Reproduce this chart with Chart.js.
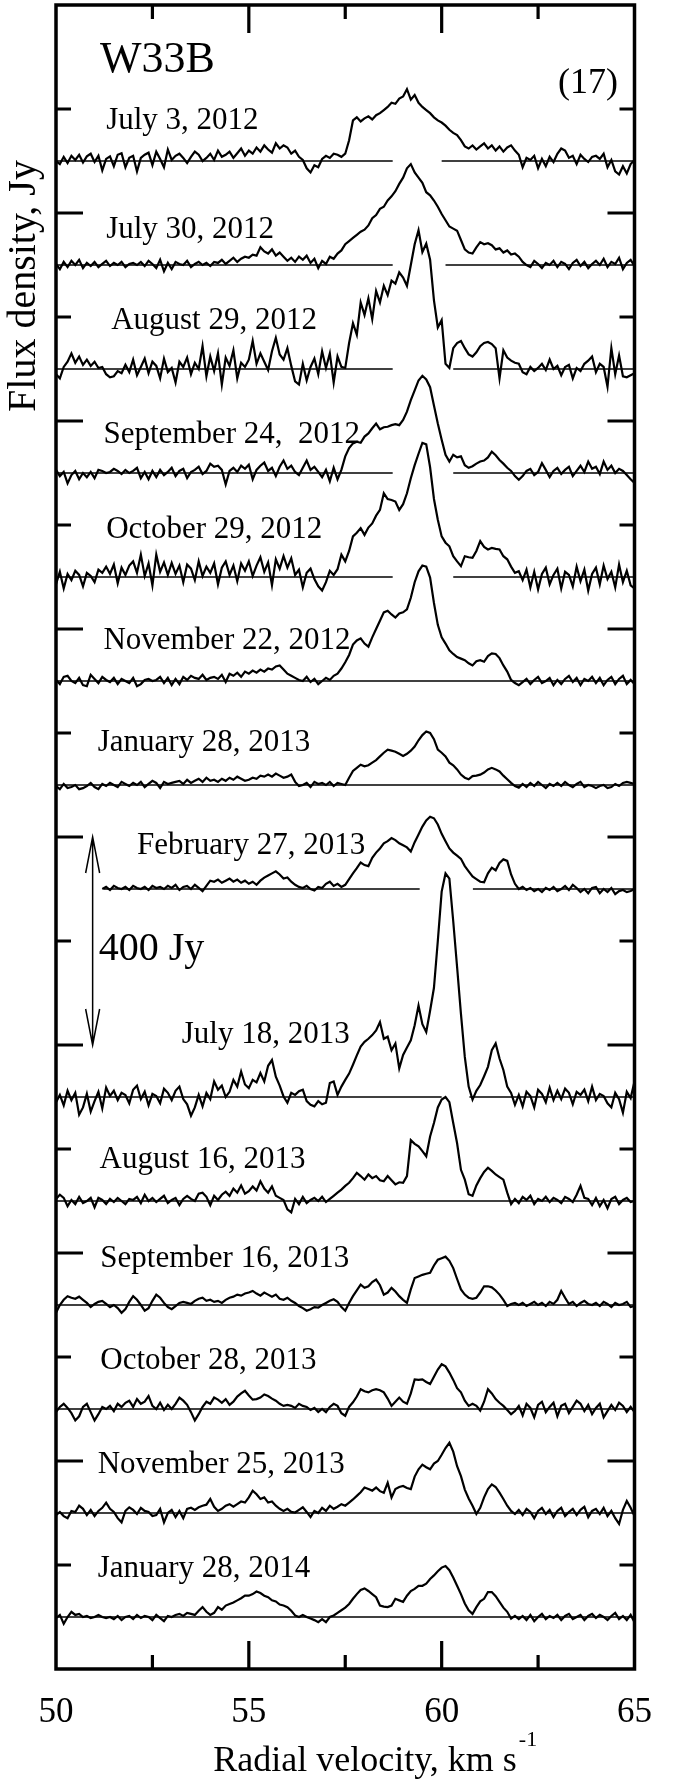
<!DOCTYPE html>
<html>
<head>
<meta charset="utf-8">
<script src="https://cdn.jsdelivr.net/npm/chart.js@4"></script>
<style>
  html, body { margin: 0; padding: 0; background: #fff; }
  #wrap { width: 675px; height: 1782px; }
</style>
</head>
<body>
<div id="wrap"><canvas id="spectraChart" width="675" height="1782"></canvas></div>
<script>
// velocity grid, km/s
const velocity = [
  50.0, 50.1, 50.2, 50.3, 50.4, 50.5, 50.6, 50.7, 50.8, 50.9,
  51.0, 51.1, 51.2, 51.3, 51.4, 51.5, 51.6, 51.7, 51.8, 51.9,
  52.0, 52.1, 52.2, 52.3, 52.4, 52.5, 52.6, 52.7, 52.8, 52.9,
  53.0, 53.1, 53.2, 53.3, 53.4, 53.5, 53.6, 53.7, 53.8, 53.9,
  54.0, 54.1, 54.2, 54.3, 54.4, 54.5, 54.6, 54.7, 54.8, 54.9,
  55.0, 55.1, 55.2, 55.3, 55.4, 55.5, 55.6, 55.7, 55.8, 55.9,
  56.0, 56.1, 56.2, 56.3, 56.4, 56.5, 56.6, 56.7, 56.8, 56.9,
  57.0, 57.1, 57.2, 57.3, 57.4, 57.5, 57.6, 57.7, 57.8, 57.9,
  58.0, 58.1, 58.2, 58.3, 58.4, 58.5, 58.6, 58.7, 58.8, 58.9,
  59.0, 59.1, 59.2, 59.3, 59.4, 59.5, 59.6, 59.7, 59.8, 59.9,
  60.0, 60.1, 60.2, 60.3, 60.4, 60.5, 60.6, 60.7, 60.8, 60.9,
  61.0, 61.1, 61.2, 61.3, 61.4, 61.5, 61.6, 61.7, 61.8, 61.9,
  62.0, 62.1, 62.2, 62.3, 62.4, 62.5, 62.6, 62.7, 62.8, 62.9,
  63.0, 63.1, 63.2, 63.3, 63.4, 63.5, 63.6, 63.7, 63.8, 63.9,
  64.0, 64.1, 64.2, 64.3, 64.4, 64.5, 64.6, 64.7, 64.8, 64.9,
  65.0
];

const dates = [
  'July 3, 2012', 'July 30, 2012', 'August 29, 2012', 'September 24,  2012',
  'October 29, 2012', 'November 22, 2012', 'January 28, 2013', 'February 27, 2013',
  'July 18, 2013', 'August 16, 2013', 'September 16, 2013', 'October 28, 2013',
  'November 25, 2013', 'January 28, 2014'
];

// offset of each spectrum on the flux axis, Jy
const baselineLevels = [2900, 2700, 2500, 2300, 2100, 1900, 1700, 1500, 1100, 900, 700, 500, 300, 100];

// drawn parts of each zero line, km/s
const baselineSpans = [
  [[50, 58.73], [60.0, 65]],
  [[50, 58.73], [60.1, 65]],
  [[50, 58.73], [60.3, 65]],
  [[50, 58.73], [60.3, 65]],
  [[50, 58.73], [60.3, 65]],
  [[50, 65]],
  [[50, 65]],
  [[51.24, 59.43], [60.81, 65]],
  [[50.05, 60.0], [60.72, 65]],
  [[50, 65]],
  [[50, 65]],
  [[50, 65]],
  [[50, 65]],
  [[50, 65]]
];

// flux density above the zero line, Jy
const fluxJul03_2012 = [
  0, -6, 8, -4, 10, 2, 12, -3, 9, 14,
  -2, 10, -18, 4, 9, -10, 12, 15, -12, 6,
  10, -20, 6, 12, 16, -8, 18, 4, -12, 22,
  2, 10, 14, 6, -4, 8, 18, 12, 0, 6,
  14, 2, 20, 8, 12, 18, 6, 15, 24, 10,
  20, 14, 26, 18, 30, 22, 16, 34, 24, 30,
  26, 14, 20, 8, 2, -14, -22, -8, -12, 4,
  10, 6, 14, 12, 8, 14, 40, 78, 84, 76,
  82, 86, 80, 88, 92, 98, 104, 112, 110, 120,
  124, 138, 118, 127, 112, 104, 98, 92, 84, 78,
  74, 68, 60, 54, 50, 40, 28, 24, 30, 22,
  28, 34, 24, 30, 20, 28, 18, 26, 30, 20,
  12, -12, 6, 2, 10, -14, 4, -10, 8, -2,
  14, 24, 20, 6, 10, -6, 12, 4, -2, 8,
  10, 4, 14, -12, 2, -20, -26, -10, -24, -6,
  2
];
const fluxJul30_2012 = [
  2, -8, 6, -4, 8, 0, 10, -6, 4, -2,
  6, -4, 2, 8, -2, 4, 0, 6, -4, 2,
  4, 0, 6, -2, 8, 2, -6, 10, -12, 4,
  -8, 6, 2, 0, 8, -4, 2, 6, 0, 4,
  -2, 6, 4, 10, 2, 8, 14, 6, 12, 16,
  14, 20, 18, 34, 26, 22, 30, 18, 24, 16,
  8, 14, 6, 16, 10, 18, 4, 12, -6, 8,
  2, 16, 12, 22, 28, 40, 46, 52, 58, 64,
  68, 76, 90, 96, 108, 112, 124, 132, 142, 156,
  168, 186, 194, 178, 168, 158, 140, 134, 124, 112,
  98, 86, 74, 70, 66, 48, 30, 24, 22, 34,
  44, 40, 42, 38, 30, 32, 24, 28, 20, 22,
  16, 6, 0, -4, 8, 2, -6, 4, 0, 8,
  -4, 6, 2, -8, 4, 10, -2, 6, -6, 2,
  8, 0, 12, -4, 6, 2, 14, -8, 4, 10,
  -2
];
const fluxAug29_2012 = [
  -10, -18, 4, 14, 30, 12, 24, 8, 18, 6,
  14, 2, 4, -10, -16, -14, -4, -8, 8, -6,
  18, -12, 4, 20, -8, 14, 6, -18, 20, -6,
  2, -26, 14, 4, 22, -10, 12, 0, 44, -14,
  24, -4, 30, -30, 22, 6, 36, -18, 12, 4,
  18, 54, 10, 30, 14, -2, 34, 60, 28, 18,
  40, 6, -24, -30, 10, -22, 4, 20, -10, 34,
  2, 30, -26, 24, 4, 2, 50, 88, 66, 128,
  104, 136, 96, 150, 128, 160, 142, 170, 164, 186,
  176, 160, 200, 240, 267, 225, 241, 210, 132, 80,
  94, 10, 2, 40, 50, 54, 40, 28, 24, 32,
  44, 50, 52, 48, 40, -18, 36, 22, 16, 12,
  10, -6, -10, 4, -4, 2, 10, -2, 18, 0,
  6, -12, 4, 8, -18, 2, -4, 10, 16, 24,
  -6, 10, 4, -34, 40, -10, 26, -14, -16, -12,
  -8
];
const fluxSep24_2012 = [
  6, -6, 2, -20, -4, 4, -12, 0, -8, 2,
  -10, 6, 4, 0, 2, 8, 4, -2, 6, 0,
  4, 10, -10, 2, -12, 4, -8, 6, -4, 2,
  10, -6, 4, 8, -10, 2, 6, 12, -2, 4,
  18, 12, 14, 6, -22, 4, 10, 2, 14, 8,
  16, -12, 6, 14, 20, 4, 10, -6, 12, 24,
  8, 14, 2, -4, 10, 24, 6, 12, 2, -8,
  6, -16, 10, -12, 6, 32, 48, 57, 60, 58,
  70, 76, 86, 95, 84, 88, 89, 92, 94, 92,
  102, 118, 140, 159, 178, 187, 180, 165, 130, 95,
  64, 35, 22, 35, 30, 32, 15, 10, 13, 18,
  22, 24, 30, 41, 34, 25, 18, 10, 4, -6,
  -13, -6, 4, 8, -4, 2, 19, 6, -8, 4,
  10, -2, 6, 12, -6, 4, 14, 2, 22, 8,
  12, -2, 22, 6, 14, 0, 8, 4, -4, -12,
  -19
];
const fluxOct29_2012 = [
  -14, 10, -22, 6, -6, 12, 4, -18, 8, 2,
  -10, 14, 8, 20, 6, 24, -12, 18, 4, 22,
  30, 8, 43, 2, 26, -16, 43, 10, 28, 4,
  27, 6, 22, -10, 24, 16, -6, 30, 2, 20,
  8, 26, -14, 18, 30, 4, 22, -8, 26, 12,
  30, 2, 22, 38, 10, 28, -16, 34, 16, 40,
  18, 36, 4, 14, -20, 8, 16, -4, -18, -26,
  -10, 12, 4, 15, 43, 30, 50, 78, 85, 94,
  81, 95, 103, 118, 129, 161, 150, 148, 145, 129,
  140, 161, 190, 215, 237, 258, 255, 211, 150, 110,
  78, 66, 59, 40, 30, 21, 40, 38, 37, 50,
  69, 58, 53, 56, 54, 53, 40, 34, 20, 8,
  11, -6, 14, -20, 10, -24, 6, 18, -14, 4,
  16, -22, 10, 4, -18, 20, -8, 14, -26, 6,
  18, -14, 22, -4, 10, -20, 24, -10, 12, -16,
  -22
];
const fluxNov22_2012 = [
  2, -6, 8, 10, 0, -4, 6, -8, -10, 12,
  4, -4, 8, 2, -2, 6, -6, 4, 0, -4,
  6, -10, -6, 2, 4, 0, 2, 8, -4, 6,
  -8, 4, -6, 8, 2, 10, 6, 4, 12, 2,
  6, 8, 4, 12, -2, 14, 10, 16, 8, 18,
  14, 20, 16, 22, 18, 24, 22, 28, 30, 22,
  14, 10, 6, 2, 0, 8, -2, 4, -6, 0,
  6, 2, 10, 14, 24, 36, 50, 70, 78, 82,
  72, 66, 84, 100, 116, 132, 135, 128, 122, 130,
  132, 138, 160, 190, 211, 222, 220, 199, 150, 108,
  84, 72, 59, 52, 46, 43, 40, 34, 30, 38,
  40, 37, 48, 53, 52, 44, 30, 18, 2, -4,
  -8, -2, 4, -6, 2, 8, -4, 0, 6, -8,
  2, -6, 4, 10, -2, 6, -8, 4, 0, 8,
  -4, 6, -8, 2, 8, -6, 4, 10, -6, 2,
  -6
];
const fluxJan28_2013 = [
  -2, -8, 2, -6, -4, 0, -8, -6, -2, 4,
  -4, -8, 2, -2, 4, 0, -4, 6, 2, -2,
  4, 0, 6, -4, 2, 8, 4, -6, 6, 2,
  4, 6, 8, 2, 10, 4, 8, 12, 6, 14,
  8, 10, 6, 12, 8, 14, 10, 16, 12, 8,
  10, 14, 12, 18, 16, 20, 16, 22, 18, 14,
  16, 20, 6, -2, 0, 4, -4, 6, 2, 4,
  0, 6, -2, 4, 2, 0, 14, 27, 33, 39,
  36, 38, 43, 48, 55, 62, 68, 66, 64, 60,
  56, 60, 66, 74, 86, 96, 103, 100, 88, 68,
  62, 55, 43, 38, 30, 20, 14, 11, 17, 18,
  20, 24, 30, 33, 30, 26, 18, 11, 4, -2,
  -5, 2, -4, 4, -2, 6, 0, -6, 2, -2,
  4, -2, 6, 0, -4, 2, 6, -4, 0, -2,
  -6, -2, 0, -6, -4, 2, -2, 4, 6, 4,
  2
];
const fluxFeb27_2013 = [
  null, null, null, null, null, null, null, null, null, null,
  null, null, 0, 4, -2, 6, 2, 0, 4, -2,
  6, 2, 0, 4, -2, 6, 2, 4, 0, 6,
  2, 8, -2, 4, 6, 0, 8, 2, -4, 6,
  16, 14, 18, 12, 16, 20, 14, 18, 12, 16,
  10, 14, 8, 16, 22, 26, 30, 34, 28, 20,
  22, 14, 8, 4, 2, 6, 0, -3, 4, 2,
  10, 14, 6, 10, 4, 8, 19, 30, 40, 51,
  46, 44, 60, 70, 78, 88, 92, 98, 94, 88,
  84, 80, 72, 90, 105, 120, 132, 139, 136, 124,
  106, 92, 78, 70, 64, 58, 44, 34, 24, 19,
  14, 13, 30, 41, 36, 50, 57, 54, 28, 10,
  0, 4, -2, 2, -4, 0, -6, 2, -2, 4,
  -4, 0, 6, -2, 8, 2, -6, 0, -8, 2,
  4, -8, 0, -6, 2, -10, -4, -2, -6, -4,
  0
];
const fluxJul18_2013 = [
  -10, 4, -16, 12, -6, 8, -34, -20, 6, -28,
  -8, 10, -22, 18, 2, 12, -6, 8, 4, -12,
  14, 22, -4, 10, -16, 6, 2, -12, 16, 8,
  -6, 12, 20, -4, -14, -36, -20, 4, -18, 8,
  -4, 30, 14, 22, 0, 10, 33, 20, 49, 24,
  17, 33, 28, 46, 30, 60, 71, 39, 22, 1,
  -11, 8, 4, 11, 14, -8, -15, -18, -8, -14,
  -11, 27, 30, 4, 20, 33, 45, 62, 80, 97,
  106, 112, 119, 128, 144, 112, 116, 90, 103, 55,
  81, 95, 109, 138, 176, 140, 125, 166, 210, 300,
  395, 430, 420, 338, 250, 160, 77, 20, -5, 12,
  23, 40, 58, 90, 103, 74, 52, 20, 8, -15,
  4, -18, 10, 2, -20, 14, 6, -10, 18, -6,
  12, -4, 16, 8, -14, 10, 4, 14, -8, 20,
  -6, 6, 2, -12, -20, 8, -4, -30, 10, -2,
  30
];
const fluxAug16_2013 = [
  4, 12, 6, -10, 2, -6, 8, -4, 0, 6,
  -12, 6, 2, -6, 4, -2, 6, 0, -6, 4,
  2, 8, -4, 12, 0, 6, -2, 4, 10, -4,
  2, 6, -8, 4, 10, 4, 0, 14, 16, 8,
  -8, 10, 2, 12, 18, 10, 24, 16, 30, 14,
  19, 28, 20, 38, 24, 16, 28, 10, 6, 2,
  -16, -22, 4, -6, 8, -4, 2, 6, 0, 8,
  -2, 4, 10, 16, 22, 29, 35, 44, 54, 48,
  41, 51, 44, 48, 40, 38, 48, 40, 32, 36,
  35, 48, 117, 110, 105, 96, 86, 124, 150, 180,
  195, 200, 190, 150, 111, 60, 41, 13, 10, 30,
  44, 56, 64, 58, 51, 46, 41, 16, -6, 4,
  -4, 8, 2, 10, -6, 4, 0, 8, -2, 6,
  2, -4, 8, 4, -2, 12, 29, 6, 4, -8,
  6, -10, 2, -14, 4, 8, -6, 2, 6, -2,
  0
];
const fluxSep16_2013 = [
  -15, 0, 10, 17, 14, 12, 16, 10, 4, -4,
  2, 6, 8, 2, -4, 0, -6, -15, -8, 6,
  17, 10, 0, -11, -6, 8, 20, 14, 4, -4,
  -8, -2, 4, 6, 4, 2, 8, 12, 14, 8,
  10, 6, 8, 4, 10, 14, 16, 20, 18, 22,
  24, 27, 22, 18, 24, 20, 16, 20, 12, 10,
  14, 8, 4, -2, -6, -11, -8, -4, -5, 0,
  4, 8, 11, 6, -4, -11, 4, 17, 28, 39,
  33, 36, 44, 49, 38, 20, 24, 33, 26, 17,
  10, 4, 30, 52, 55, 58, 60, 62, 76, 87,
  90, 93, 85, 71, 50, 30, 20, 14, 12, 14,
  24, 36, 36, 34, 28, 20, 10, -2, 2, 4,
  0, 4, -2, 2, 6, 0, 4, -2, 6, 2,
  10, 27, 14, 2, 6, -2, 4, 8, 2, 0,
  4, -2, 6, 2, -4, 4, 0, 2, 6, -4,
  -2
];
const fluxOct28_2013 = [
  -6, 4, 10, 2, -8, -22, -14, 4, 10, -6,
  -22, -10, 4, 0, 6, -4, 10, 4, 12, 16,
  4, 19, 10, 14, 25, 6, 0, 12, -2, 8,
  0, 10, 22, 16, 8, -6, -22, -10, 4, 14,
  10, 22, 18, 12, 19, 8, 14, 24, 30, 35,
  26, 18, 19, 22, 28, 25, 20, 16, 10, 6,
  8, 6, 2, 10, 6, 4, -2, 2, -6, 0,
  -6, 4, 10, 6, -8, -13, 4, 13, 24, 38,
  34, 32, 36, 38, 36, 32, 20, 6, 14, 22,
  14, 10, 30, 57, 56, 57, 52, 48, 62, 76,
  86, 82, 70, 56, 40, 32, 16, 6, 10, 6,
  -3, 14, 38, 30, 19, 12, 6, -2, -10, -4,
  6, -12, 10, 2, -16, 8, 14, -6, 4, 12,
  -14, 6, 10, -8, 4, 16, 10, -4, 8, -10,
  2, 10, -16, -4, 8, -2, 12, 6, -6, 4,
  -6
];
const fluxNov25_2013 = [
  -4, 2, -6, -10, 4, 2, 14, 8, -4, 6,
  -6, 4, 10, 20, 8, 2, -10, -18, 4, 11,
  6, -2, 10, 4, 2, -6, -4, 8, -18, 0,
  6, -8, 4, -10, 8, 10, 6, 11, 14, 16,
  27, 12, 4, 8, 14, 17, 12, 17, 22, 20,
  30, 43, 36, 27, 30, 20, 22, 14, 8, 4,
  8, 2, 1, 6, 11, 2, -8, 4, 0, 10,
  4, 14, 8, 12, 17, 14, 20, 26, 33, 40,
  49, 46, 43, 49, 42, 39, 58, 30, 46, 50,
  52, 48, 46, 70, 84, 93, 88, 84, 95, 100,
  112, 125, 135, 118, 90, 71, 45, 28, 14, -2,
  10, 30, 46, 55, 50, 39, 27, 14, 4, -2,
  6, -4, 8, 2, -10, 4, 10, -2, 6, -8,
  4, 10, -6, 2, 8, -4, 6, 12, -8, 4,
  8, -2, 10, -6, 4, -10, -21, 6, 23, 10,
  -6
];
const fluxJan28_2014 = [
  -2, 4, -13, 0, 10, 4, 6, 0, 2, -2,
  0, 4, 0, -2, 0, -4, 2, -6, 0, 2,
  -4, 4, -2, 2, 0, -6, 4, -2, -8, 2,
  0, 4, 6, 2, 8, 6, 4, 12, 19, 10,
  4, 8, 19, 14, 22, 25, 28, 32, 36, 41,
  41, 44, 49, 46, 41, 38, 32, 30, 24, 22,
  19, 12, 3, 0, 4, 0, -3, -6, -10, -4,
  -10, 0, 3, 8, 13, 18, 25, 35, 44, 52,
  55, 50, 44, 38, 22, 20, 19, 22, 35, 32,
  29, 41, 50, 54, 60, 60, 64, 73, 80, 88,
  95, 98, 90, 76, 60, 44, 26, 13, 6, 19,
  30, 35, 48, 48, 40, 29, 18, 10, -3, 2,
  -4, 2, -6, 4, -8, 0, 6, -4, 2, -2,
  4, -6, 2, 6, -4, 0, 4, -6, 2, 6,
  -2, 4, 0, -6, 2, 8, -4, 2, -6, 4,
  -10
];

const spectra = [
  fluxJul03_2012, fluxJul30_2012, fluxAug29_2012, fluxSep24_2012, fluxOct29_2012,
  fluxNov22_2012, fluxJan28_2013, fluxFeb27_2013, fluxJul18_2013, fluxAug16_2013,
  fluxSep16_2013, fluxOct28_2013, fluxNov25_2013, fluxJan28_2014
];

// where each date label sits: left edge (km/s), middle (Jy)
const labelAnchors = [
  [51.30, 2977], [51.30, 2767], [51.43, 2592], [51.23, 2373], [51.30, 2190],
  [51.23, 1977], [51.08, 1781], [52.10, 1583], [53.26, 1219], [51.13, 979],
  [51.15, 788], [51.15, 592], [51.08, 392], [51.08, 192]
];

// 400 Jy scale bar
const scaleBarVelocity = 50.95;
const scaleBarFrom = 1200;
const scaleBarTo = 1600;

const SERIF = '"Liberation Serif", "Times New Roman", serif';

const datasets = [];
spectra.forEach((flux, i) => {
  const pts = [];
  flux.forEach((v, j) => {
    if (v !== null) pts.push({ x: velocity[j], y: baselineLevels[i] + v });
  });
  datasets.push({
    data: pts,
    borderColor: '#000',
    borderWidth: 2.2,
    pointRadius: 0,
    tension: 0,
    fill: false
  });
});
baselineSpans.forEach((spans, i) => {
  spans.forEach(([a, b]) => {
    datasets.push({
      data: [{ x: a, y: baselineLevels[i] }, { x: b, y: baselineLevels[i] }],
      borderColor: '#000',
      borderWidth: 1.3,
      pointRadius: 0,
      fill: false
    });
  });
});

const framePlugin = {
  id: 'frame',
  afterDraw(chart) {
    const { ctx, chartArea: a, scales: { x, y } } = chart;
    ctx.save();
    ctx.strokeStyle = '#000';
    ctx.fillStyle = '#000';

    // inward ticks on all four sides
    ctx.lineWidth = 3.2;
    ctx.beginPath();
    x.ticks.forEach(t => {
      if (t.value <= x.min || t.value >= x.max) return;
      const px = x.getPixelForValue(t.value);
      const len = t.value % 5 === 0 ? 28 : 14;
      ctx.moveTo(px, a.top); ctx.lineTo(px, a.top + len);
      ctx.moveTo(px, a.bottom); ctx.lineTo(px, a.bottom - len);
    });
    y.ticks.forEach(t => {
      if (t.value <= y.min || t.value >= y.max) return;
      const py = y.getPixelForValue(t.value);
      const len = t.value % 400 === 0 ? 27 : 15;
      ctx.moveTo(a.left, py); ctx.lineTo(a.left + len, py);
      ctx.moveTo(a.right, py); ctx.lineTo(a.right - len, py);
    });
    ctx.stroke();

    ctx.lineWidth = 3.5;
    ctx.strokeRect(a.left, a.top, a.right - a.left, a.bottom - a.top);

    // date labels
    ctx.font = '31px ' + SERIF;
    ctx.textAlign = 'left';
    ctx.textBaseline = 'middle';
    dates.forEach((d, i) => {
      ctx.fillText(d, x.getPixelForValue(labelAnchors[i][0]), y.getPixelForValue(labelAnchors[i][1]));
    });

    // scale bar
    const bx = x.getPixelForValue(scaleBarVelocity);
    const yTop = y.getPixelForValue(scaleBarTo);
    const yBot = y.getPixelForValue(scaleBarFrom);
    ctx.lineWidth = 1.5;
    ctx.beginPath();
    ctx.moveTo(bx, yTop); ctx.lineTo(bx, yBot);
    ctx.moveTo(bx - 7, yTop + 36); ctx.lineTo(bx, yTop); ctx.lineTo(bx + 7, yTop + 36);
    ctx.moveTo(bx - 7, yBot - 36); ctx.lineTo(bx, yBot); ctx.lineTo(bx + 7, yBot - 36);
    ctx.stroke();
    ctx.font = '40px ' + SERIF;
    ctx.fillText('400 Jy', bx + 6, (yTop + yBot) / 2 + 8);

    // source name and panel number
    ctx.font = '44px ' + SERIF;
    ctx.fillText('W33B', 100, 60);
    ctx.font = '36px ' + SERIF;
    ctx.textAlign = 'right';
    ctx.fillText('(17)', 618, 84);

    // axis titles
    ctx.textAlign = 'left';
    ctx.font = '36px ' + SERIF;
    const main = 'Radial velocity, km s';
    const w = ctx.measureText(main).width;
    const tx = 372 - (w + 14) / 2;
    ctx.fillText(main, tx, 1762);
    ctx.font = '22px ' + SERIF;
    ctx.fillText('-1', tx + w + 2, 1740);

    ctx.save();
    ctx.translate(24, 286);
    ctx.rotate(-Math.PI / 2);
    ctx.textAlign = 'center';
    ctx.font = '40px ' + SERIF;
    ctx.fillText('Flux density, Jy', 0, 0);
    ctx.restore();

    ctx.restore();
  }
};

new Chart(document.getElementById('spectraChart').getContext('2d'), {
  type: 'line',
  data: { datasets },
  options: {
    responsive: false,
    animation: false,
    devicePixelRatio: 1,
    layout: { padding: { left: 0, right: 20, top: 5, bottom: 0 } },
    plugins: { legend: { display: false }, tooltip: { enabled: false } },
    scales: {
      x: {
        type: 'linear',
        min: 50,
        max: 65,
        grid: { display: false, drawTicks: false },
        border: { display: false },
        ticks: {
          stepSize: 2.5,
          autoSkip: false,
          maxRotation: 0,
          padding: 23,
          color: '#000',
          font: { family: SERIF, size: 35 },
          callback: v => (v % 5 === 0 ? String(v) : '')
        },
        afterFit: s => { s.height = 113; }
      },
      y: {
        min: 0,
        max: 3200,
        grid: { display: false, drawTicks: false },
        border: { display: false },
        ticks: { stepSize: 200, display: false },
        afterFit: s => { s.width = 56; }
      }
    }
  },
  plugins: [framePlugin]
});
</script>
</body>
</html>
